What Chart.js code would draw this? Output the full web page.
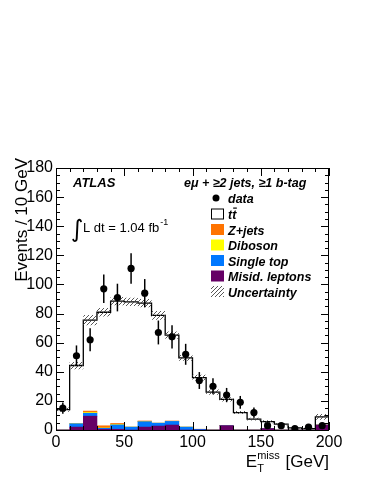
<!DOCTYPE html>
<html>
<head>
<meta charset="utf-8">
<script src="https://cdn.jsdelivr.net/npm/chart.js@4.4.1/dist/chart.umd.min.js"></script>
<style>
  html, body { margin: 0; padding: 0; background: #fff; }
  #wrap { width: 374px; height: 484px; }
</style>
</head>
<body>
<div id="wrap"><canvas id="metChart" width="374" height="484"></canvas></div>
<script>
// 10 GeV bins, centres
const binCenters = [5, 15, 25, 35, 45, 55, 65, 75, 85, 95, 105, 115, 125, 135, 145, 155, 165, 175, 185, 195];
const dataEvents = [15, 51, 62, 97, 91, 111, 94, 67, 64, 52, 34, 30, 24, 19, 12, 3, 3, 1, 2, 3];
const dataErrors = [3.9, 7.1, 7.9, 9.8, 9.5, 10.5, 9.7, 8.2, 8, 7.2, 5.8, 5.5, 4.9, 4.4, 3.5, 1.7, 1.7, 1, 1.4, 1.7];
// stacked backgrounds, bottom to top
const misidLeptons = [0, 2, 9.5, 0.5, 0.5, 0, 2, 2.7, 3.4, 0, 0, 0, 3, 0, 0, 1, 0, 0, 0, 3.4];
const singleTop = [0, 2.3, 2, 0.7, 3, 2, 3.7, 2, 2.5, 2, 0.5, 0, 0, 0, 0, 0, 0, 0, 0, 0];
const diboson = [0, 0, 0.5, 0.2, 0.3, 0, 0, 0, 0, 0, 0, 0, 0, 0, 0, 0, 0, 0, 0, 0];
const zJets = [0, 0, 1, 1.5, 0.7, 0, 0.5, 0, 0.3, 0, 0, 0, 0, 0, 0, 0, 0, 0, 0, 0];
const ttbar = [14, 40, 62.5, 78, 84, 86, 81, 74, 59, 47.5, 35.5, 26, 18, 12, 7.5, 4.7, 4, 1.5, 1, 5.6];
const mcUncertainty = [1.5, 2.5, 3.5, 3, 2.8, 2.8, 2.8, 3, 2.5, 2, 2, 1.8, 1.5, 1, 1, 1, 0.8, 0.5, 0.5, 2];
const xTickStep = 50, xMinorStep = 10;
const yTickStep = 20, yMinorStep = 5;

const colors = {
    misid: '#660066',
    single: '#0078ff',
    dibos: '#ffff00',
    zjets: '#ff7300',
    ttbar: '#ffffff'
};
const FONT = "'Liberation Sans', Arial, Helvetica, sans-serif";

const mcTotal = binCenters.map((c, i) => misidLeptons[i] + singleTop[i] + diboson[i] + zJets[i] + ttbar[i]);

function toBars(vals) {
    return vals.map((v, i) => ({ x: binCenters[i], y: v }));
}
function toSteps(vals) {
    const pts = vals.map((v, i) => ({ x: binCenters[i] - 5, y: v }));
    const last = vals.length - 1;
    pts.push({ x: binCenters[last] + 5, y: vals[last] });
    return pts;
}

// hatch pattern for the uncertainty band
function makeHatch() {
    const c = document.createElement('canvas');
    c.width = 4; c.height = 4;
    const g = c.getContext('2d');
    g.strokeStyle = '#444';
    g.lineWidth = 0.9;
    g.beginPath();
    g.moveTo(-1, 5); g.lineTo(5, -1);
    g.moveTo(-1, 1); g.lineTo(1, -1);
    g.moveTo(3, 5); g.lineTo(5, 3);
    g.stroke();
    return g.createPattern(c, 'repeat');
}
const hatch = makeHatch();

function barSet(label, vals, color) {
    return {
        type: 'bar', label: label, data: toBars(vals),
        backgroundColor: color, borderWidth: 0,
        stack: 'mc', grouped: false, order: 3,
        barPercentage: 1, categoryPercentage: 1
    };
}

// error bars, frame, inner ticks, texts and legend
const decorPlugin = {
    id: 'decor',
    afterDatasetsDraw(chart) {
        const ctx = chart.ctx, xs = chart.scales.x, ys = chart.scales.y;
        ctx.save();
        ctx.strokeStyle = '#000';
        ctx.lineWidth = 1.5;
        dataEvents.forEach((v, i) => {
            const px = xs.getPixelForValue(binCenters[i]);
            ctx.beginPath();
            ctx.moveTo(px, ys.getPixelForValue(v - dataErrors[i]));
            ctx.lineTo(px, ys.getPixelForValue(v + dataErrors[i]));
            ctx.stroke();
        });
        ctx.restore();
    },
    afterDraw(chart) {
        const ctx = chart.ctx, a = chart.chartArea, xs = chart.scales.x, ys = chart.scales.y;
        ctx.save();
        ctx.strokeStyle = '#000';
        ctx.lineWidth = 1;
        ctx.strokeRect(a.left + 0.5, a.top + 0.5, a.right - a.left - 1, a.bottom - a.top);
        ctx.beginPath();
        for (let v = xs.min; v <= xs.max; v += xMinorStep) {
            const px = Math.round(xs.getPixelForValue(v)) + 0.5;
            const L = v % xTickStep === 0 ? 8 : 4;
            ctx.moveTo(px, a.bottom); ctx.lineTo(px, a.bottom - L);
            ctx.moveTo(px, a.top); ctx.lineTo(px, a.top + L);
        }
        for (let v = ys.min; v <= ys.max; v += yMinorStep) {
            const py = Math.round(ys.getPixelForValue(v)) + 0.5;
            const L = v % yTickStep === 0 ? 8 : 4;
            ctx.moveTo(a.left, py); ctx.lineTo(a.left + L, py);
            ctx.moveTo(a.right, py); ctx.lineTo(a.right - L, py);
        }
        ctx.stroke();

        ctx.fillStyle = '#000';
        // y title
        ctx.save();
        ctx.translate(27, 158);
        ctx.rotate(-Math.PI / 2);
        ctx.font = '17px ' + FONT;
        ctx.textAlign = 'right';
        ctx.textBaseline = 'alphabetic';
        ctx.fillText('Events / 10 GeV', 0, 0);
        ctx.restore();

        // x title: E_T^miss [GeV]
        ctx.textBaseline = 'alphabetic';
        ctx.textAlign = 'left';
        ctx.font = '17px ' + FONT;
        const tail = ' [GeV]';
        const wTail = ctx.measureText(tail).width;
        ctx.font = '11px ' + FONT;
        const wSup = ctx.measureText('miss').width;
        ctx.font = '17px ' + FONT;
        const wE = ctx.measureText('E').width;
        const xEnd = a.right;
        const xTail = xEnd - wTail;
        const xSup = xTail - wSup - 1;
        const xE = xSup - wE;
        ctx.fillText(tail, xTail, 467);
        ctx.fillText('E', xE, 467);
        ctx.font = '11px ' + FONT;
        ctx.fillText('miss', xSup, 459);
        ctx.fillText('T', xSup, 472);

        // ATLAS label and channel
        ctx.font = 'italic bold 13px ' + FONT;
        ctx.fillText('ATLAS', 73, 187);
        ctx.font = 'italic bold 12.5px ' + FONT;
        ctx.fillText('e\u03bc + \u22652 jets, \u22651 b-tag', 184, 187);

        // luminosity
        ctx.font = '24px "DejaVu Sans", sans-serif';
        ctx.fillText('\u222b', 71, 237);
        ctx.font = '13px ' + FONT;
        ctx.fillText('L dt = 1.04 fb', 83, 232);
        const wl = ctx.measureText('L dt = 1.04 fb').width;
        ctx.font = '9px ' + FONT;
        ctx.fillText('-1', 83 + wl + 1, 225);

        // legend
        const lx = 211, tx = 228;
        const rows = [
            { label: 'data', kind: 'dot', y: 198 },
            { label: 'tt', kind: 'box', color: colors.ttbar, y: 214 },
            { label: 'Z+jets', kind: 'box', color: colors.zjets, y: 229.5 },
            { label: 'Diboson', kind: 'box', color: colors.dibos, y: 245 },
            { label: 'Single top', kind: 'box', color: colors.single, y: 260.5 },
            { label: 'Misid. leptons', kind: 'box', color: colors.misid, y: 276 },
            { label: 'Uncertainty', kind: 'box', color: hatch, y: 291.5 }
        ];
        ctx.font = 'italic bold 12.5px ' + FONT;
        rows.forEach(r => {
            if (r.kind === 'dot') {
                ctx.beginPath();
                ctx.arc(216, r.y, 3.5, 0, Math.PI * 2);
                ctx.fill();
            } else {
                ctx.fillStyle = r.color;
                ctx.fillRect(lx, r.y - 5.5, 13, 11);
                if (r.label === 'tt') {
                    ctx.strokeStyle = '#000';
                    ctx.lineWidth = 1;
                    ctx.strokeRect(lx + 0.5, r.y - 5, 12, 10);
                }
            }
            ctx.fillStyle = '#000';
            ctx.fillText(r.label, tx, r.y + 5);
            if (r.label === 'tt') {
                const w1 = ctx.measureText('t').width;
                ctx.fillRect(tx + w1 + 1, r.y - 6.5, w1 - 0.5, 1.2);
            }
        });
        ctx.restore();
    }
};

new Chart(document.getElementById('metChart'), {
    type: 'bar',
    data: {
        datasets: [
            barSet('Misid. leptons', misidLeptons, colors.misid),
            barSet('Single top', singleTop, colors.single),
            barSet('Diboson', diboson, colors.dibos),
            barSet('Z+jets', zJets, colors.zjets),
            barSet('tt', ttbar, colors.ttbar),
            {
                type: 'line', label: 'total', data: toSteps(mcTotal),
                stepped: 'before', borderColor: '#000', borderWidth: 1.3,
                pointRadius: 0, fill: false, stack: 'tot', order: 2
            },
            {
                type: 'line', label: 'Uncertainty',
                data: toSteps(mcTotal.map((v, i) => v + mcUncertainty[i])),
                stepped: 'before', borderWidth: 0, pointRadius: 0,
                backgroundColor: hatch, fill: '+1', stack: 'up', order: 1
            },
            {
                type: 'line', label: 'unc-low',
                data: toSteps(mcTotal.map((v, i) => Math.max(0, v - mcUncertainty[i]))),
                stepped: 'before', borderWidth: 0, pointRadius: 0,
                fill: false, stack: 'lo', order: 1
            },
            {
                type: 'line', label: 'data', data: toBars(dataEvents),
                showLine: false, pointRadius: 3.6, pointBackgroundColor: '#000',
                pointBorderWidth: 0, stack: 'pts', order: 0
            }
        ]
    },
    options: {
        responsive: false,
        animation: false,
        events: [],
        layout: { padding: { top: 168, right: 45, left: 0, bottom: 0 } },
        plugins: { legend: { display: false }, tooltip: { enabled: false } },
        scales: {
            x: {
                type: 'linear', min: 0, max: 200, offset: false,
                grid: { display: false, drawTicks: false, offset: false },
                border: { display: false },
                ticks: { stepSize: xTickStep, padding: 3, color: '#000', font: { family: FONT, size: 16 }, maxRotation: 0 },
                afterFit: s => { s.height = 54; }
            },
            y: {
                stacked: true, min: 0, max: 180,
                grid: { display: false, drawTicks: false },
                border: { display: false },
                ticks: { stepSize: yTickStep, padding: 3, color: '#000', font: { family: FONT, size: 16 } },
                afterFit: s => { s.width = 56; }
            }
        }
    },
    plugins: [decorPlugin]
});
</script>
</body>
</html>
